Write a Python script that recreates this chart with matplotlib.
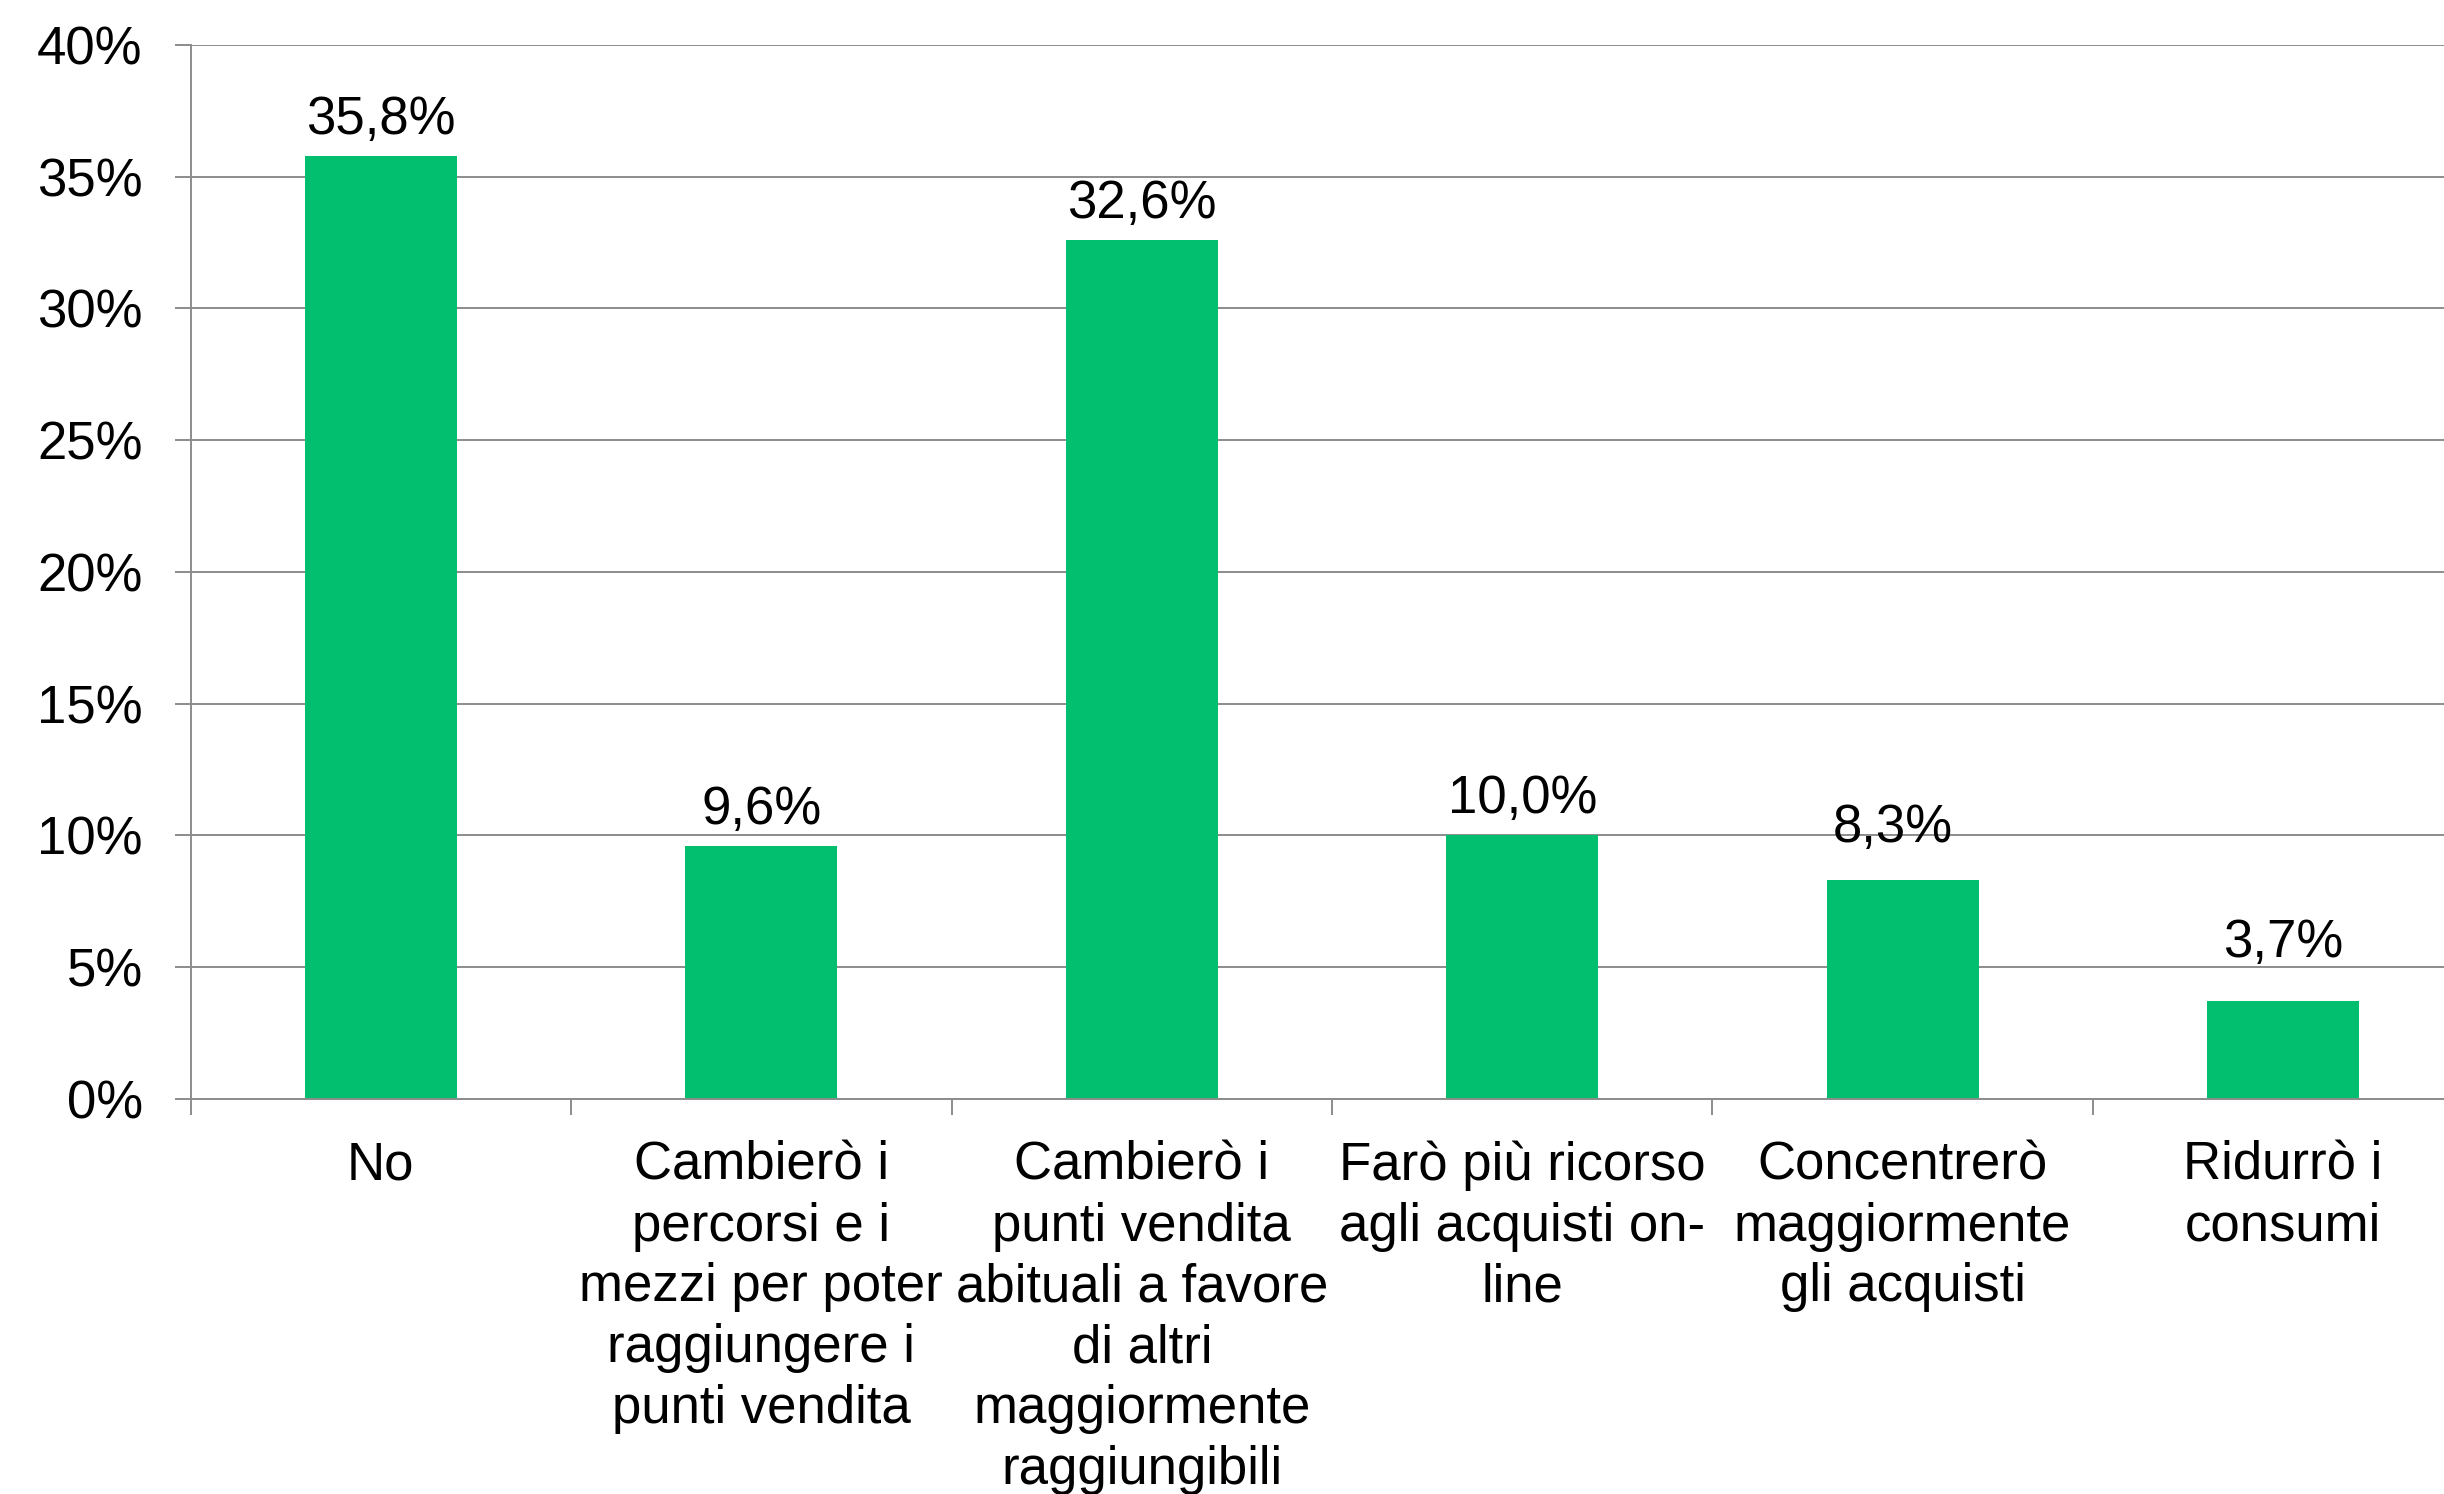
"""
Bar chart: cambiamenti nelle abitudini di acquisto
"""
import matplotlib
matplotlib.use("Agg")
import matplotlib.pyplot as plt
from matplotlib.ticker import FuncFormatter

categories = [
    "No",
    "Cambierò i\npercorsi e i\nmezzi per poter\nraggiungere i\npunti vendita",
    "Cambierò i\npunti vendita\nabituali a favore\ndi altri\nmaggiormente\nraggiungibili",
    "Farò più ricorso\nagli acquisti on-\nline",
    "Concentrerò\nmaggiormente\ngli acquisti",
    "Ridurrò i\nconsumi",
]
values = [35.8, 9.6, 32.6, 10.0, 8.3, 3.7]
y_ticks = [0, 5, 10, 15, 20, 25, 30, 35, 40]

# label offsets in points (dx, dy); last two were moved up in the original
label_offsets = [(0, 8), (0, 8), (0, 8), (0, 8), (-7, 19.5), (0, 24)]

BAR_COLOR = "#02BF70"
GRID_COLOR = "#8C8C8C"
FS = 38


def draw_fig():
    plt.rcParams["font.family"] = ["Liberation Sans", "DejaVu Sans"]
    fig = plt.figure(figsize=(24.44, 14.94), dpi=100)
    ax = fig.add_axes([0.078, 0.2644, 0.934, 0.7055])

    x = list(range(len(values)))
    bars = ax.bar(x, values, width=0.4, color=BAR_COLOR, zorder=3)

    for rect, v, off in zip(bars, values, label_offsets):
        ax.annotate(f"{v:.1f}%".replace(".", ","),
                    xy=(rect.get_x() + rect.get_width() / 2, v),
                    xytext=off, textcoords="offset points",
                    ha="center", va="bottom", fontsize=FS, color="black")

    ax.set_xlim(-0.5, len(values) - 0.5)
    ax.set_ylim(0, 40)
    ax.set_yticks(y_ticks)
    ax.yaxis.set_major_formatter(FuncFormatter(lambda v, p: f"{v:.0f}%"))
    ax.tick_params(axis="y", length=11.5, width=1.4, color=GRID_COLOR,
                   pad=23, labelsize=FS)
    ax.grid(axis="y", color=GRID_COLOR, linewidth=1.4, zorder=0)

    # boundary ticks as major, labels at centres as minor
    ax.set_xticks([i - 0.5 for i in range(len(values) + 1)])
    ax.set_xticklabels([])
    ax.set_xticks(x, minor=True)
    ax.set_xticklabels(categories, minor=True, fontsize=FS, linespacing=1.28)
    ax.tick_params(axis="x", which="major", length=11.5, width=1.4,
                   color=GRID_COLOR)
    ax.tick_params(axis="x", which="minor", length=0, pad=30)

    for side in ["top", "right"]:
        ax.spines[side].set_visible(False)
    for side in ["left", "bottom"]:
        ax.spines[side].set_color(GRID_COLOR)
        ax.spines[side].set_linewidth(1.4)
        ax.spines[side].set_zorder(4)

    fig.savefig("out.png", dpi=100)


def main():
    draw_fig()


if __name__ == "__main__":
    main()
